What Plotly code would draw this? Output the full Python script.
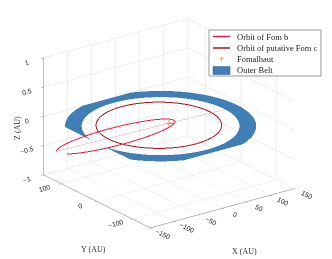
import numpy as np
import plotly.graph_objects as go

# ---- data ----
x_ticks = [-150, -100, -50, 0, 50, 100, 150]
y_ticks = [-100, 0, 100]
z_ticks = [-1, -0.5, 0, 0.5, 1]

belt_center = [-19.0, -2.0]      # AU
belt_radii = [132.0, 160.0]      # inner, outer (AU)
fomc_center = [-19.0, 3.0]       # AU
fomc_radius = 105.0              # AU
fomb_a = 99.0                    # semi-major axis (AU)
fomb_e = 0.9                     # eccentricity
fomb_apo_angle_deg = 142.5       # direction of apoapsis in x-y plane
fomb_apo_z = -0.49               # z of apoapsis
apse_line_fracs = [1.0, -0.5]    # ends of apse line, in units of apoapsis vector
star_pos = [0.0, 0.0, 0.0]

legend_names = ['Orbit of Fom b', 'Orbit of putative Fom c', 'Fomalhaut', 'Outer Belt']
c_fomb = '#e01f4a'
c_fomc = '#a5161c'
c_star = '#f08a3c'
c_belt = '#3f7fb6'

# ---- geometry ----
th = np.linspace(0, 2 * np.pi, 361)

fc_x = fomc_center[0] + fomc_radius * np.cos(th)
fc_y = fomc_center[1] + fomc_radius * np.sin(th)
fc_z = np.zeros_like(th)

phi = np.deg2rad(fomb_apo_angle_deg)
Q = fomb_a * (1 + fomb_e)
A = np.array([Q * np.cos(phi), Q * np.sin(phi), fomb_apo_z])
w = np.array([np.sin(phi), -np.cos(phi), 0.0])
b = fomb_a * np.sqrt(1 - fomb_e ** 2)
f = (np.cos(th) - fomb_e) / (-(1 + fomb_e))
fb = np.outer(f, A) + np.outer(b * np.sin(th), w)

apse = np.outer(apse_line_fracs, A)

n = 180
ang = np.linspace(0, 2 * np.pi, n, endpoint=False)
r_in, r_out = belt_radii
vx = np.concatenate([belt_center[0] + r_in * np.cos(ang), belt_center[0] + r_out * np.cos(ang)])
vy = np.concatenate([belt_center[1] + r_in * np.sin(ang), belt_center[1] + r_out * np.sin(ang)])
vz = np.zeros(2 * n)
ii, jj, kk = [], [], []
for k in range(n):
    k2 = (k + 1) % n
    ii += [k, k2]
    jj += [k2, n + k2]
    kk += [n + k, n + k]

fig = go.Figure()
fig.add_trace(go.Mesh3d(x=vx, y=vy, z=vz, i=ii, j=jj, k=kk, color=c_belt,
                        opacity=0.995, flatshading=True,
                        lighting=dict(ambient=1, diffuse=0, specular=0, roughness=1, fresnel=0),
                        name=legend_names[3], showlegend=False, hoverinfo='skip'))
fig.add_trace(go.Scatter3d(x=apse[:, 0], y=apse[:, 1], z=apse[:, 2], mode='lines',
                           line=dict(color='#e3a3b3', width=1), opacity=0.99,
                           showlegend=False, hoverinfo='skip'))
fig.add_trace(go.Scatter3d(x=fc_x, y=fc_y, z=fc_z, mode='lines',
                           line=dict(color=c_fomc, width=2), opacity=0.99,
                           name=legend_names[1], showlegend=False, hoverinfo='skip'))
fig.add_trace(go.Scatter3d(x=fb[:, 0], y=fb[:, 1], z=fb[:, 2], mode='lines',
                           line=dict(color=c_fomb, width=2), opacity=0.99,
                           name=legend_names[0], showlegend=False, hoverinfo='skip'))
fig.add_trace(go.Scatter3d(x=[star_pos[0]], y=[star_pos[1]], z=[star_pos[2]], mode='markers',
                           marker=dict(symbol='cross', size=4, color=c_star), opacity=0.99,
                           name=legend_names[2], showlegend=False, hoverinfo='skip'))

tickfont = dict(family='Liberation Sans, Arial', size=9, color='#222')
axis_common = dict(showbackground=False, gridcolor='#dddddd', gridwidth=1,
                   showline=True, linecolor='#777777', linewidth=1,
                   ticks='outside', ticklen=3, tickcolor='#777777',
                   zeroline=False, showspikes=False, tickfont=tickfont, title=dict(text=''))

view = np.array([-0.556, -0.751, 0.37])
view = view / np.linalg.norm(view)
hdir = view[:2] / np.linalg.norm(view[:2])
sin_el = view[2]
cos_el = np.sqrt(1 - sin_el ** 2)
up_vec = np.array([-sin_el * hdir[0], -sin_el * hdir[1], cos_el])
center = -0.074 * up_vec
eye = center + 2.0 * view

W, H = 332, 259
def px(x, y):
    return x / W, 1 - y / H

shapes = []
annotations = []
x0, y0 = px(201, 22)
x1, y1 = px(313, 68)
shapes.append(dict(type='rect', xref='paper', yref='paper', x0=x0, y0=y1, x1=x1, y1=y0,
                   line=dict(color='#999999', width=1), fillcolor='white', layer='above'))
rows = [28.5, 40, 51.5, 62.5]
for r, c in zip(rows[:2], [c_fomb, c_fomc]):
    a0, b0 = px(205, r)
    a1, _ = px(222, r)
    shapes.append(dict(type='line', xref='paper', yref='paper', x0=a0, y0=b0, x1=a1, y1=b0,
                       line=dict(color=c, width=1.5), layer='above'))
a0, b0 = px(205, rows[3] - 4)
a1, b1 = px(222, rows[3] + 4)
shapes.append(dict(type='rect', xref='paper', yref='paper', x0=a0, y0=b1, x1=a1, y1=b0,
                   line=dict(color='#2a5f8f', width=0.5), fillcolor=c_belt, layer='above'))
sx, sy = px(213.5, rows[2])
annotations.append(dict(xref='paper', yref='paper', x=sx, y=sy, text='+', showarrow=False,
                        font=dict(family='Liberation Sans', size=9, color=c_star),
                        xanchor='center', yanchor='middle'))
legfont = dict(family='Liberation Serif, Times New Roman', size=8.5, color='#222')
for r, t in zip(rows, legend_names):
    tx, ty = px(227, r)
    annotations.append(dict(xref='paper', yref='paper', x=tx, y=ty, text=t, showarrow=False,
                            font=legfont, xanchor='left', yanchor='middle'))
titlefont = dict(family='Liberation Serif, Times New Roman', size=8, color='#333')
for (tx, ty, t, ang_) in [(85, 241, 'Y (AU)', 0), (236, 243, 'X (AU)', 0), (10, 120, 'Z (AU)', -90)]:
    ax_, ay_ = px(tx, ty)
    annotations.append(dict(xref='paper', yref='paper', x=ax_, y=ay_, text=t, showarrow=False,
                            font=titlefont, xanchor='center', yanchor='middle', textangle=ang_))

fig.update_layout(
    width=W, height=H, margin=dict(l=0, r=0, t=0, b=0),
    paper_bgcolor='white',
    scene=dict(
        domain=dict(x=[0.015, 0.956], y=[0.04, 1.0]),
        xaxis=dict(range=[-150, 150], tickvals=x_ticks, **axis_common),
        yaxis=dict(range=[-150, 150], tickvals=y_ticks, **axis_common),
        zaxis=dict(range=[-1, 1], tickvals=z_ticks, **axis_common),
        aspectmode='manual', aspectratio=dict(x=1.44, y=1.44, z=1.01),
        camera=dict(eye=dict(x=eye[0], y=eye[1], z=eye[2]), up=dict(x=0, y=0, z=1),
                    center=dict(x=center[0], y=center[1], z=center[2]),
                    projection=dict(type='orthographic')),
    ),
    shapes=shapes, annotations=annotations,
    showlegend=False,
)
fig.write_html('out.html', config=dict(displayModeBar=False))
